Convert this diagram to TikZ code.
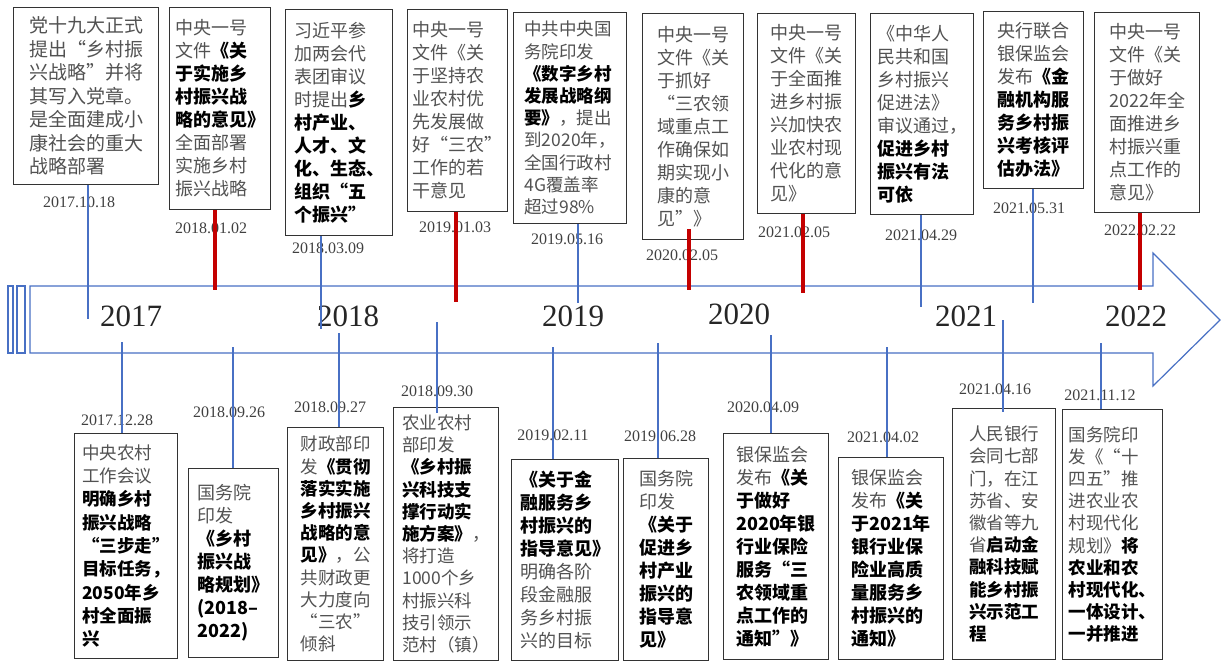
\documentclass[tikz,border=0pt]{standalone}
\usepackage{fontspec}
\setmainfont{Noto Sans CJK SC}
\newfontfamily\timesf{Liberation Serif}
\usepackage{tikz}
\usetikzlibrary{positioning}
\definecolor{lineblue}{RGB}{72,112,196}
\definecolor{tickred}{RGB}{196,0,0}
\newcommand\kw[1]{{\color{black}\bfseries #1}}

\begin{document}
\begin{tikzpicture}
    [x=1pt,y=-1pt,
     box/.style={draw=black!80,line width=1.1pt,fill=white,align=left,inner sep=3pt,
       anchor=north west,text=black!68,font=\fontsize{18}{23}\selectfont},
     boxsize/.style 2 args={minimum width=#1pt,minimum height=#2pt},
     small/.style={font=\fontsize{17.5}{22.2}\selectfont},
     date/.style={inner sep=0pt,text=black!75,font=\timesf\fontsize{16}{16}\selectfont},
     year/.style={inner sep=0pt,text=black!85,font=\timesf\fontsize{31}{31}\selectfont},
     blueline/.style={draw=lineblue,line width=1.1pt},
     redline/.style={draw=tickred,line width=3.6pt},
     band/.style={draw=lineblue,line width=1.2pt,fill=white}]

    \useasboundingbox (0,0) rectangle (1221,661);

    \draw[band] (30,286) -- (1153,286) -- (1153,253) -- (1220,320)
      -- (1153,386) -- (1153,353) -- (30,353) -- cycle;
    \draw[band] (8,286) rectangle (13,353);
    \draw[band] (17,286) rectangle (25,353);

    \node[year] (y2017) at (131,316) {2017};
    \node[year] (y2018) at (348,316) {2018};
    \node[year] (y2019) at (573,316) {2019};
    \node[year] (y2020) at (739,314) {2020};
    \node[year] (y2021) at (966,316) {2021};
    \node[year] (y2022) at (1136,316) {2022};

    \node[box,boxsize={145}{177},font=\fontsize{19}{23.5}\selectfont] (t1) at (13,7)
      {党十九大正式\\提出“乡村振\\兴战略”并将\\其写入党章。\\是全面建成小\\康社会的重大\\战略部署};
    \node[box,boxsize={101}{202}] (t2) at (169,7)
      {中央一号\\文件\kw{《关}\\\kw{于实施乡}\\\kw{村振兴战}\\\kw{略的意见》}\\全面部署\\实施乡村\\振兴战略};
    \node[box,boxsize={107}{226}] (t3) at (285,9)
      {习近平参\\加两会代\\表团审议\\时提出\kw{乡}\\\kw{村产业、}\\\kw{人才、文}\\\kw{化、生态、}\\\kw{组织“五}\\\kw{个振兴”}};
    \node[box,boxsize={100}{202}] (t4) at (407,9)
      {中央一号\\文件《关\\于坚持农\\业农村优\\先发展做\\好“三农”\\工作的若\\干意见};
    \node[box,small,boxsize={113}{211}] (t5) at (513,12)
      {中共中央国\\务院印发\\\kw{《数字乡村}\\\kw{发展战略纲}\\\kw{要》}，提出\\到2020年，\\全国行政村\\4G覆盖率\\超过98\%};
    \node[box,boxsize={101}{226}] (t6) at (642,13)
      {中央一号\\文件《关\\于抓好\\“三农领\\域重点工\\作确保如\\期实现小\\康的意\\见”》};
    \node[box,boxsize={98}{200}] (t7) at (757,13)
      {中央一号\\文件《关\\于全面推\\进乡村振\\兴加快农\\业农村现\\代化的意\\见》};
    \node[box,boxsize={103}{201}] (t8) at (870,13)
      {《中华人\\民共和国\\乡村振兴\\促进法》\\审议通过，\\\kw{促进乡村}\\\kw{振兴有法}\\\kw{可依}};
    \node[box,boxsize={100}{177}] (t9) at (983,11)
      {央行联合\\银保监会\\发布\kw{《金}\\\kw{融机构服}\\\kw{务乡村振}\\\kw{兴考核评}\\\kw{估办法》}};
    \node[box,boxsize={105}{200}] (t10) at (1094,12)
      {中央一号\\文件《关\\于做好\\2022年全\\面推进乡\\村振兴重\\点工作的\\意见》};

    \node[box,boxsize={103}{225},font=\fontsize{17.5}{23.3}\selectfont] (b1) at (74,433)
      {中央农村\\工作会议\\\kw{明确乡村}\\\kw{振兴战略}\\\kw{“三步走”}\\\kw{目标任务，}\\\kw{2050年乡}\\\kw{村全面振}\\\kw{兴}};
    \node[box,boxsize={90}{189}] (b2) at (188,468)
      {国务院\\印发\\\kw{《乡村}\\\kw{振兴战}\\\kw{略规划》}\\\kw{(2018–}\\\kw{2022)}};
    \node[box,small,boxsize={96}{233}] (b3) at (287,427)
      {财政部印\\发\kw{《贯彻}\\\kw{落实实施}\\\kw{乡村振兴}\\\kw{战略的意}\\\kw{见》}，公\\共财政更\\大力度向\\“三农”\\倾斜};
    \node[box,small,boxsize={105}{253}] (b4) at (393,407)
      {农业农村\\部印发\\\kw{《乡村振}\\\kw{兴科技支}\\\kw{撑行动实}\\\kw{施方案》}，\\将打造\\1000个乡\\村振兴科\\技引领示\\范村（镇）};
    \node[box,boxsize={107}{201}] (b5) at (511,459)
      {\kw{《关于金}\\\kw{融服务乡}\\\kw{村振兴的}\\\kw{指导意见》}\\明确各阶\\段金融服\\务乡村振\\兴的目标};
    \node[box,boxsize={85}{202}] (b6) at (623,458)
      {国务院\\印发\\\kw{《关于}\\\kw{促进乡}\\\kw{村产业}\\\kw{振兴的}\\\kw{指导意}\\\kw{见》}};
    \node[box,boxsize={105}{226}] (b7) at (723,433)
      {银保监会\\发布\kw{《关}\\\kw{于做好}\\\kw{2020年银}\\\kw{行业保险}\\\kw{服务“三}\\\kw{农领域重}\\\kw{点工作的}\\\kw{通知”》}};
    \node[box,boxsize={105}{202}] (b8) at (838,457)
      {银保监会\\发布\kw{《关}\\\kw{于2021年}\\\kw{银行业保}\\\kw{险业高质}\\\kw{量服务乡}\\\kw{村振兴的}\\\kw{通知》}};
    \node[box,small,boxsize={103}{251}] (b9) at (952,408)
      {人民银行\\会同七部\\门，在江\\苏省、安\\徽省等九\\省\kw{启动金}\\\kw{融科技赋}\\\kw{能乡村振}\\\kw{兴示范工}\\\kw{程}};
    \node[box,small,boxsize={100}{250}] (b10) at (1062,409)
      {国务院印\\发《“十\\四五”推\\进农业农\\村现代化\\规划》\kw{将}\\\kw{农业和农}\\\kw{村现代化、}\\\kw{一体设计、}\\\kw{一并推进}};

    \node[date] (d1) at (79,202) {2017.10.18};
    \node[date] (d2) at (211,228) {2018.01.02};
    \node[date] (d3) at (328,248) {2018.03.09};
    \node[date] (d4) at (455,227) {2019.01.03};
    \node[date] (d5) at (567,239) {2019.05.16};
    \node[date] (d6) at (682,255) {2020.02.05};
    \node[date] (d7) at (794,232) {2021.02.05};
    \node[date] (d8) at (921,235) {2021.04.29};
    \node[date] (d9) at (1029,208) {2021.05.31};
    \node[date] (d10) at (1140,230) {2022.02.22};

    \node[date] (e1) at (117,420) {2017.12.28};
    \node[date] (e2) at (229,412) {2018.09.26};
    \node[date] (e3) at (330,407) {2018.09.27};
    \node[date] (e4) at (437,391) {2018.09.30};
    \node[date] (e5) at (553,435) {2019.02.11};
    \node[date] (e6) at (660,436) {2019.06.28};
    \node[date] (e7) at (763,407) {2020.04.09};
    \node[date] (e8) at (883,437) {2021.04.02};
    \node[date] (e9) at (995,389) {2021.04.16};
    \node[date] (e10) at (1100,395) {2021.11.12};

    \coordinate (p1) at (88,319);
    \coordinate (p2) at (215,290);
    \coordinate (p3) at (321,329);
    \coordinate (p4) at (456,302);
    \coordinate (p5) at (578,303);
    \coordinate (p6) at (689,290);
    \coordinate (p7) at (803,293);
    \coordinate (p8) at (921,307);
    \coordinate (p9) at (1033,303);
    \coordinate (p10) at (1140,290);

    \coordinate (q1) at (122,342);
    \coordinate (q2) at (233,347);
    \coordinate (q3) at (339,333);
    \coordinate (q4) at (437,322);
    \coordinate (q5) at (553,347);
    \coordinate (q6) at (658,343);
    \coordinate (q7) at (771,335);
    \coordinate (q8) at (887,347);
    \coordinate (q9) at (1003,320);
    \coordinate (q10) at (1101,343);

    \draw[blueline] (p1 |- t1.south) -- (p1);
    \draw[redline] (p2 |- t2.south) -- (p2);
    \draw[blueline] (p3 |- t3.south) -- (p3);
    \draw[redline] (p4 |- t4.south) -- (p4);
    \draw[blueline] (p5 |- t5.south) -- (p5);
    \draw[redline] ([yshift=11pt]p6 |- t6.south) -- (p6);
    \draw[redline] (p7 |- t7.south) -- (p7);
    \draw[blueline] (p8 |- t8.south) -- (p8);
    \draw[blueline] (p9 |- t9.south) -- (p9);
    \draw[redline] (p10 |- t10.south) -- (p10);

    \draw[blueline] (q1) -- (q1 |- b1.north);
    \draw[blueline] (q2) -- (q2 |- b2.north);
    \draw[blueline] (q3) -- (q3 |- b3.north);
    \draw[blueline] (q4) -- ([yshift=-6pt]q4 |- b4.north);
    \draw[blueline] (q5) -- (q5 |- b5.north);
    \draw[blueline] (q6) -- (q6 |- b6.north);
    \draw[blueline] (q7) -- (q7 |- b7.north);
    \draw[blueline] (q8) -- (q8 |- b8.north);
    \draw[blueline] (q9) -- ([yshift=-4pt]q9 |- b9.north);
    \draw[blueline] (q10) -- (q10 |- b10.north);
\end{tikzpicture}
\end{document}
